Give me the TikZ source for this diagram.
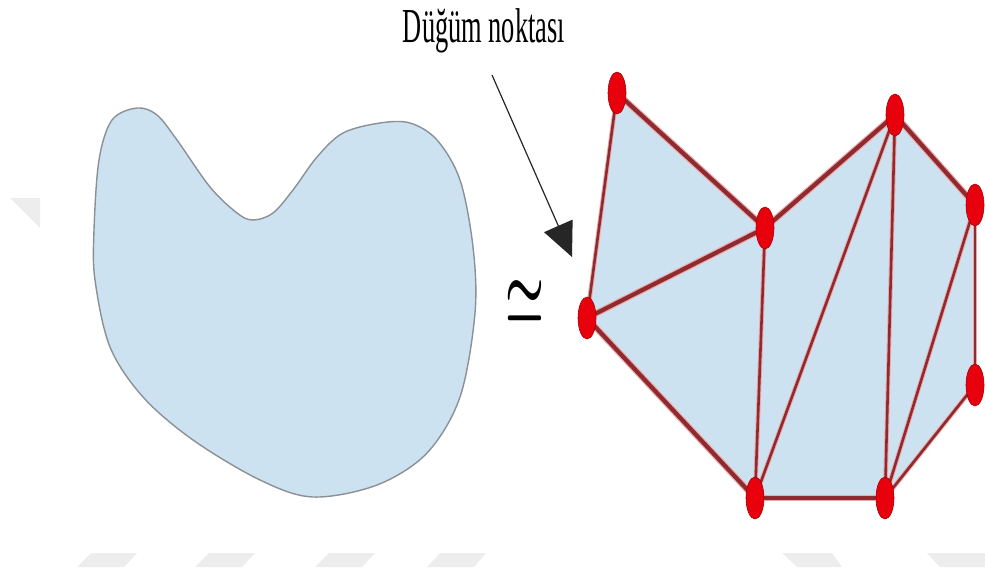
\documentclass[tikz,border=0pt]{standalone}
\usepackage{fontspec}
\usepackage{amsmath}
\setmainfont{Liberation Serif}
\usetikzlibrary{shapes.geometric,arrows.meta}
\definecolor{blobfill}{HTML}{CDE2F1}
\definecolor{blobline}{HTML}{8A9096}
\definecolor{meshfill}{HTML}{CCE2F0}
\definecolor{edgecore}{HTML}{8E2B30}
\definecolor{edgeglow}{HTML}{F2A6A6}
\definecolor{dotred}{HTML}{E8000C}
\definecolor{wmark}{HTML}{EDEDED}
\tikzset{
  vtx/.style={ellipse, fill=dotred, draw=dotred!70!black, line width=0.6pt, minimum width=18pt, minimum height=42pt, inner sep=0pt},
  thickedge/.style={edgecore, line width=4.2pt, preaction={draw=edgeglow, line width=6.5pt}},
  thinedge/.style={edgecore, line width=2.6pt, preaction={draw=edgeglow, line width=4.5pt}},
  wm/.style={fill=wmark, draw=none}
}
\begin{document}
\begin{tikzpicture}[x=1pt,y=-1pt]
\useasboundingbox (0,0) rectangle (985,577);
% watermark
\fill[wm] (10,198) -- (40,198) -- (40,228) -- cycle;
\foreach \a/\b in {91/77,209/195,329/315,440/427}{
  \fill[wm] (\a,553) -- (\a+46,553) -- (\b+47,567) -- (\b,567) -- cycle;}
\fill[wm] (782,553) -- (832,553) -- (842,567) -- (797,567) -- cycle;
\fill[wm] (927,553) -- (985,553) -- (985,567) -- (940,567) -- cycle;
% blob
\draw[blobline, fill=blobfill, line width=1.4pt] plot[smooth cycle, tension=0.55] coordinates {
 (137,108) (112,120) (99,160) (94,230) (95,280) (110,347) (143,397) (193,440)
 (260,480) (313,497) (377,485) (427,453) (460,397) (475,313) (473,247) (460,180)
 (437,140) (410,123) (380,123) (343,133) (317,157) (293,190) (273,213) (253,220)
 (237,213) (210,187) (177,140) (157,115)};
% label and arrow
\node[anchor=base, inner sep=0pt] (lbl) at (484,43) {\scalebox{1}[1.85]{\fontsize{26.4}{30}\selectfont Düğüm noktası}};
\coordinate (as) at (492,75);
\coordinate (at) at (572,257);
\draw[black!85, line width=1.2pt, -{Triangle[length=34pt,width=31pt]}] (as) -- (at);
% approx symbol
\node[inner sep=0pt] (sym) at (525,301) {\scalebox{1.75}[3.2]{\fontsize{40}{40}\selectfont$\boldsymbol{\simeq}$}};
% mesh
\coordinate (pA) at (617,93);
\coordinate (pB) at (765,228);
\coordinate (pC) at (895,115);
\coordinate (pD) at (975,205);
\coordinate (pE) at (587,318);
\coordinate (pF) at (755,498);
\coordinate (pG) at (885,498);
\coordinate (pH) at (975,385);
\fill[meshfill] (pA) -- (pB) -- (pC) -- (pD) -- (pH) -- (pG) -- (pF) -- (pE) -- cycle;
\draw[thinedge] (pA) -- (pE);
\draw[thinedge] (pB) -- (pF);
\draw[thinedge] (pC) -- (pF);
\draw[thinedge] (pC) -- (pG);
\draw[thinedge] (pD) -- (pG);
\draw[thinedge] (pD) -- (pH);
\draw[thinedge] (pG) -- (pH);
\draw[thickedge] (pA) -- (pB);
\draw[thickedge] (pB) -- (pC);
\draw[thickedge] (pC) -- (pD);
\draw[thickedge] (pE) -- (pB);
\draw[thickedge] (pE) -- (pF);
\draw[thickedge] (pF) -- (pG);
\node[vtx] (A) at (pA) {};
\node[vtx] (B) at (pB) {};
\node[vtx] (C) at (pC) {};
\node[vtx] (D) at (pD) {};
\node[vtx] (E) at (pE) {};
\node[vtx] (F) at (pF) {};
\node[vtx] (G) at (pG) {};
\node[vtx] (H) at (pH) {};
\end{tikzpicture}
\end{document}
